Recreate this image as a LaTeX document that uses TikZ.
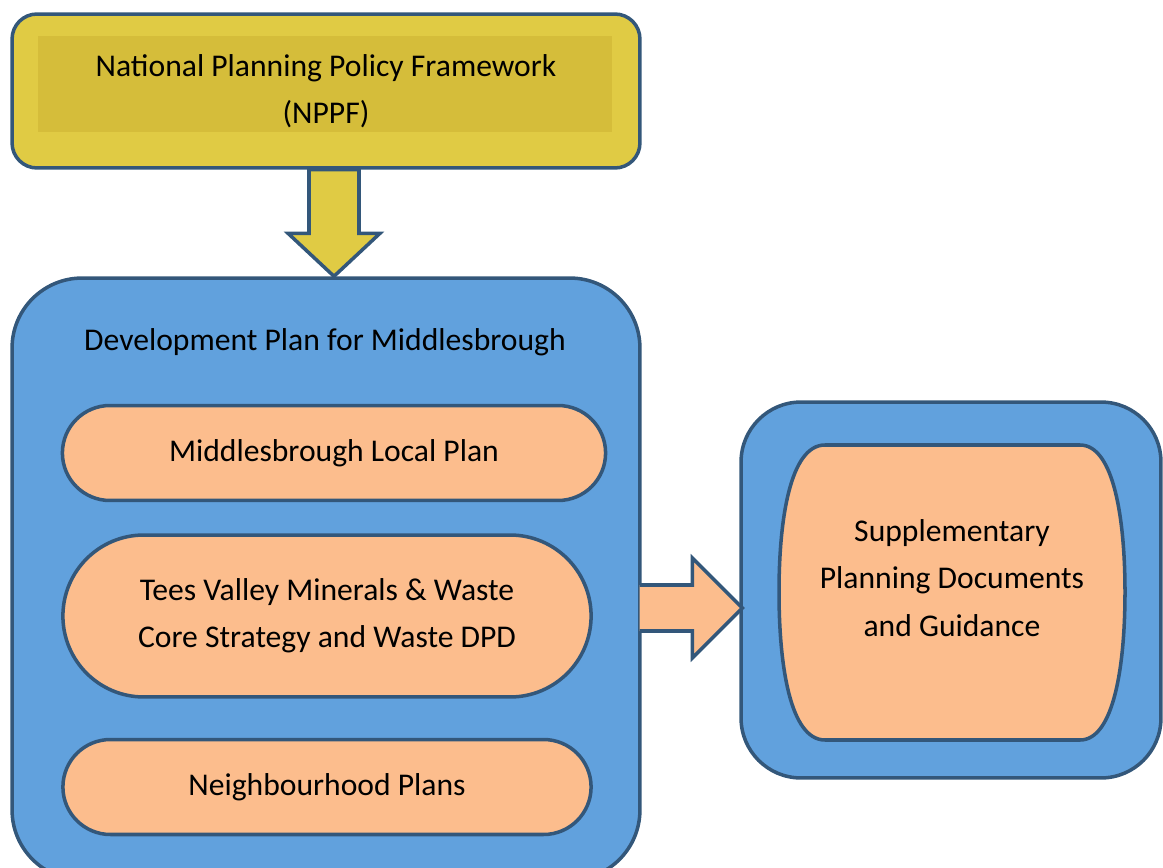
\documentclass[tikz,border=0pt]{standalone}
\usepackage{fontspec}
\setmainfont{Carlito}
\usetikzlibrary{shapes.misc,calc}

\definecolor{planyellow}{HTML}{E0CB44}
\definecolor{planyellowin}{HTML}{D5BD3A}
\definecolor{planblue}{HTML}{61A1DD}
\definecolor{planorange}{HTML}{FCBD8D}
\definecolor{planedge}{HTML}{33577A}

\begin{document}
\begin{tikzpicture}[x=0.02cm,y=-0.02cm]

	\tikzstyle plan text=[align=center, font=\fontsize{18}{27}\selectfont];
	\tikzstyle rim=[draw=planedge, line width=2pt];
	\tikzstyle yellow box=[rim, plan text, fill=planyellow, rectangle, rounded corners=0.5cm];
	\tikzstyle blue box=[rim, fill=planblue, rectangle];
	\tikzstyle pill=[rim, plan text, fill=planorange, rounded rectangle];
	\tikzstyle yellow arrow=[rim, fill=planyellow, line join=miter];
	\tikzstyle orange arrow=[rim, fill=planorange, line join=miter];

	\useasboundingbox (0,0) rectangle (1163,868);
	\clip (0,0) rectangle (1163,868);

	\node[yellow box, minimum width=12.56cm, minimum height=3.08cm] (nppf) at (326,91) {};
	\fill[planyellowin] (38,36) rectangle (612,132);
	\node[plan text] (nppftext) at (nppf.center) {National Planning Policy Framework\\(NPPF)};

	\node[blue box, rounded corners=1.4cm, minimum width=12.56cm, minimum height=12.04cm] (devplan) at (326,579) {};
	\node[plan text] (devtitle) at (325,342) {Development Plan for Middlesbrough};

	\node[pill, minimum width=11.1cm, minimum height=1.9cm] (localplan) at (334,453) {Middlesbrough Local Plan};
	\node[pill, minimum width=10.8cm, minimum height=3.24cm] (teesvalley) at (327,616)
		{Tees Valley Minerals \& Waste\\Core Strategy and Waste DPD};
	\node[pill, minimum width=10.8cm, minimum height=1.9cm] (neighbourhood) at (327,787) {Neighbourhood Plans};

	\node[blue box, rounded corners=1.2cm, minimum width=8.4cm, minimum height=7.52cm] (supbox) at (951,590) {};
	\draw[rim, fill=planorange] (825,445) -- (1080,445) .. controls (1114,445) and (1125,520) .. (1125,592)
		.. controls (1125,665) and (1114,740) .. (1080,740) -- (825,740) .. controls (790,740) and (779,665) .. (779,592)
		.. controls (779,520) and (790,445) .. cycle;
	\node[plan text] (supplementary) at (952,578) {Supplementary\\Planning Documents\\and Guidance};

	% block arrows
	\coordinate (dtop) at ($(nppf.south)+(8,0)$);
	\coordinate (dtip) at ($(devplan.north)+(8,0)$);
	\draw[yellow arrow] ($(dtop)+(-25,0)$) -- ($(dtop)+(25,0)$) -- ($(dtip)+(25,-43)$) -- ($(dtip)+(46,-43)$)
		-- (dtip) -- ($(dtip)+(-46,-43)$) -- ($(dtip)+(-25,-43)$) -- cycle;

	\coordinate (rstart) at ($(devplan.east)+(-2,29)$);
	\coordinate (rtip) at ($(supbox.west)+(3,18)$);
	\draw[orange arrow] ($(rstart)+(0,-23)$) -- ($(rtip |- rstart)+(-50,-23)$) -- ($(rtip)+(-50,-50)$)
		-- (rtip) -- ($(rtip)+(-50,50)$) -- ($(rtip |- rstart)+(-50,23)$) -- ($(rstart)+(0,23)$);

\end{tikzpicture}
\end{document}
